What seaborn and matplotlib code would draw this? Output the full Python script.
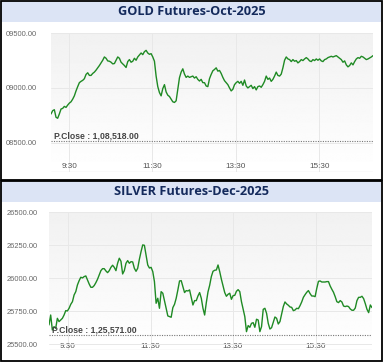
import matplotlib
matplotlib.use("Agg")
import matplotlib.pyplot as plt
import matplotlib.dates as mdates
import matplotlib.transforms as mtransforms
from matplotlib.patches import Rectangle
import numpy as np
import pandas as pd
import seaborn as sns

# ----------------------------------------------------------------------
# Data (one sample every ~2.4 minutes)
# ----------------------------------------------------------------------
gold_title = "GOLD Futures-Oct-2025"
gold_start = "2025-09-26 09:04:00"
gold_step = "144s"
gold_prices = [
    108763, 108793, 108802, 108733, 108724, 108763, 108808, 108814, 108832, 108823,
    108844, 108862, 108874, 108898, 108928, 108973, 109012, 109048, 109060, 109069,
    109084, 109123, 109138, 109114, 109114, 109132, 109144, 109162, 109183, 109204,
    109228, 109252, 109282, 109270, 109246, 109243, 109234, 109219, 109222, 109252,
    109282, 109270, 109234, 109219, 109204, 109186, 109240, 109258, 109234, 109243,
    109270, 109252, 109282, 109300, 109318, 109303, 109330, 109342, 109318, 109306,
    109312, 109282, 109243, 109108, 109012, 108958, 108928, 108994, 109030, 108964,
    108934, 108922, 108898, 108874, 108868, 108883, 108988, 109093, 109144, 109174,
    109126, 109096, 109108, 109096, 109102, 109108, 109090, 109102, 109078, 109063,
    109078, 109048, 109048, 109018, 109012, 109084, 109123, 109156, 109168, 109183,
    109153, 109159, 109132, 109096, 109066, 109048, 109030, 109000, 108973, 108988,
    109030, 109048, 109060, 109042, 109060, 109024, 109072, 109018, 109000, 109012,
    109024, 108994, 109012, 108982, 109012, 109018, 109006, 109030, 109060, 109108,
    109078, 109090, 109060, 109078, 109108, 109144, 109114, 109108, 109126, 109183,
    109252, 109282, 109264, 109258, 109240, 109258, 109243, 109249, 109228, 109240,
    109258, 109249, 109264, 109276, 109264, 109246, 109240, 109258, 109249, 109264,
    109252, 109264, 109246, 109240, 109258, 109264, 109276, 109282, 109288, 109282,
    109288, 109294, 109282, 109270, 109258, 109234, 109246, 109210, 109192, 109204,
    109228, 109210, 109240, 109264, 109276, 109270, 109288, 109282, 109270, 109258,
    109264, 109273, 109282, 109294,
]
gold_pclose = 108518
gold_pclose_label = "P.Close : 1,08,518.00"
gold_yticks = [108500, 109000, 109500]
# the left edge of the source screenshot crops the leading digits
gold_ylabels = ["08500.00", "09000.00", "09500.00"]
gold_ylim = (108235, 109500)

silver_title = "SILVER Futures-Dec-2025"
silver_start = "2025-09-26 09:02:20"
silver_step = "146s"
silver_prices = [
    125647, 125722, 125609, 125634, 125621, 125697, 125672, 125684, 125697, 125722,
    125755, 125753, 125773, 125803, 125823, 125874, 125899, 125950, 125982, 126008,
    126003, 126013, 126018, 125987, 125957, 125932, 125932, 125945, 125967, 125993,
    126025, 126058, 126073, 126073, 126056, 126043, 126058, 126083, 126099, 126083,
    126058, 126114, 126152, 126129, 126033, 126058, 126114, 126134, 126114, 126126,
    126124, 126076, 126053, 126076, 126144, 126202, 126253, 126250, 126177, 126101,
    126078, 126083, 126051, 125975, 125811, 125849, 125773, 125899, 125887, 125831,
    125773, 125715, 125710, 125705, 125778, 125803, 125849, 125912, 125980, 125982,
    125937, 125892, 125907, 125904, 125912, 125856, 125798, 125831, 125831, 125866,
    125892, 125849, 125773, 125722, 125816, 125897, 125947, 126013, 126053, 126061,
    126063, 126101, 126051, 125993, 125942, 125892, 125864, 125879, 125887, 125841,
    125869, 125871, 125902, 125914, 125899, 125823, 125765, 125710, 125596, 125642,
    125629, 125659, 125664, 125629, 125690, 125684, 125596, 125634, 125765, 125773,
    125735, 125659, 125616, 125626, 125667, 125707, 125697, 125654, 125672, 125730,
    125786, 125821, 125806, 125796, 125783, 125780, 125755, 125760, 125773, 125770,
    125793, 125821, 125856, 125876, 125894, 125907, 125884, 125866, 125866, 125861,
    125924, 125977, 125980, 125972, 125972, 125972, 125975, 125975, 125942, 125917,
    125894, 125861, 125823, 125816, 125831, 125821, 125790, 125786, 125790, 125786,
    125768, 125758, 125758, 125775, 125831, 125856, 125856, 125864, 125846, 125808,
    125765, 125740, 125798, 125778,
]
silver_pclose = 125571
silver_pclose_label = "P.Close : 1,25,571.00"
silver_yticks = [125500, 125750, 126000, 126250, 126500]
silver_ylabels = ["25500.00", "25750.00", "26000.00", "26250.00", "26500.00"]
silver_ylim = (125457, 126500)

xtick_times = ["09:30", "11:30", "13:30", "15:30"]
trade_date = "2025-09-26"

LINE_GREEN = "#1f8a24"
TITLE_BG = "#dce4f5"
TITLE_FG = "#142a5c"
W, H = 383, 362


def px_rect(x0, y0, x1, y1, **kw):
    # rectangle given in pixel coords (top-left origin)
    return Rectangle((x0 / W, 1 - y1 / H), (x1 - x0) / W, (y1 - y0) / H,
                     transform=fig.transFigure, **kw)


def draw_panel(ax, title, title_y, start, step, prices, pclose, pclose_label,
               yticks, ylabels, ylim, ypad, xpad):
    times = pd.date_range(start=start, periods=len(prices), freq=step)
    df = pd.DataFrame({"time": times, "price": prices})

    # light grey fade behind the plot (grey at top, white at the bottom)
    grad = np.linspace(0.945, 1.0, 256).reshape(-1, 1)
    ax.imshow(grad, cmap="gray", vmin=0, vmax=1, aspect="auto", origin="upper",
              extent=[0, 1, 0, 1], transform=ax.transAxes, zorder=0,
              interpolation="bilinear")

    sns.lineplot(data=df, x="time", y="price", ax=ax, color=LINE_GREEN,
                 linewidth=1.0, zorder=3)

    ax.set_xlim(times[0], times[-1])
    ax.set_ylim(*ylim)
    ax.set_xlabel("")
    ax.set_ylabel("")

    ax.set_yticks(yticks)
    ax.set_yticklabels(ylabels)
    xt = pd.to_datetime([f"{trade_date} {t}" for t in xtick_times])
    ax.set_xticks(xt)
    ax.xaxis.set_major_formatter(mdates.DateFormatter("%-H:%M"))

    ax.grid(True, color="#e8e8e8", linewidth=0.7, zorder=1)
    ax.set_axisbelow(True)
    for side in ["top", "left", "right", "bottom"]:
        ax.spines[side].set_visible(False)
    ax.axhline(ylim[0], color="#d9d9d9", linewidth=0.9, zorder=2)

    ax.tick_params(axis="y", length=0, pad=ypad, labelsize=5.4, labelcolor="#666666")
    ax.tick_params(axis="x", length=0, pad=-xpad, labelsize=5.9, labelcolor="#555555")
    for lab in ax.get_yticklabels() + ax.get_xticklabels():
        lab.set_family("Liberation Sans")

    ax.axhline(pclose, color="#777777", linewidth=0.8, linestyle=(0, (1, 1.2)), zorder=2)
    blend = mtransforms.blended_transform_factory(ax.transAxes, ax.transData)
    ax.annotate(pclose_label, xy=(0.01, pclose), xycoords=blend,
                xytext=(0, 0.6), textcoords="offset points", va="bottom", ha="left",
                fontsize=6.2, fontweight="bold", color="#444444",
                family="Liberation Sans", zorder=4)

    fig.text(191.5 / W, 1 - title_y / H, title, ha="center", va="center",
             fontsize=9.2, fontweight="bold", color=TITLE_FG, family="Open Sans")


sns.set_theme(style="white")
fig = plt.figure(figsize=(W / 100, H / 100), dpi=100)
fig.patch.set_facecolor("white")

# title bars
fig.add_artist(px_rect(1, 1, 381, 21.5, facecolor=TITLE_BG, edgecolor="none", zorder=0))
fig.add_artist(px_rect(1, 181, 381, 201.5, facecolor=TITLE_BG, edgecolor="none", zorder=0))

ax_gold = fig.add_axes([51 / W, 1 - 172 / H, (373 - 51) / W, (172 - 33) / H])
ax_silver = fig.add_axes([49 / W, 1 - 350 / H, (372 - 49) / W, (350 - 212.3) / H])

draw_panel(ax_gold, gold_title, 11.5, gold_start, gold_step, gold_prices,
           gold_pclose, gold_pclose_label, gold_yticks, gold_ylabels, gold_ylim,
           ypad=10, xpad=6.8)
draw_panel(ax_silver, silver_title, 191.5, silver_start, silver_step, silver_prices,
           silver_pclose, silver_pclose_label, silver_yticks, silver_ylabels, silver_ylim,
           ypad=7.9, xpad=5.4)

# panel borders
fig.add_artist(px_rect(0.8, 0.8, 381.8, 180, facecolor="none", edgecolor="black",
                       linewidth=1.3, zorder=10))
fig.add_artist(px_rect(0.8, 180.6, 381.8, 361.2, facecolor="none", edgecolor="black",
                       linewidth=1.3, zorder=10))

fig.savefig("out.png", dpi=100)
